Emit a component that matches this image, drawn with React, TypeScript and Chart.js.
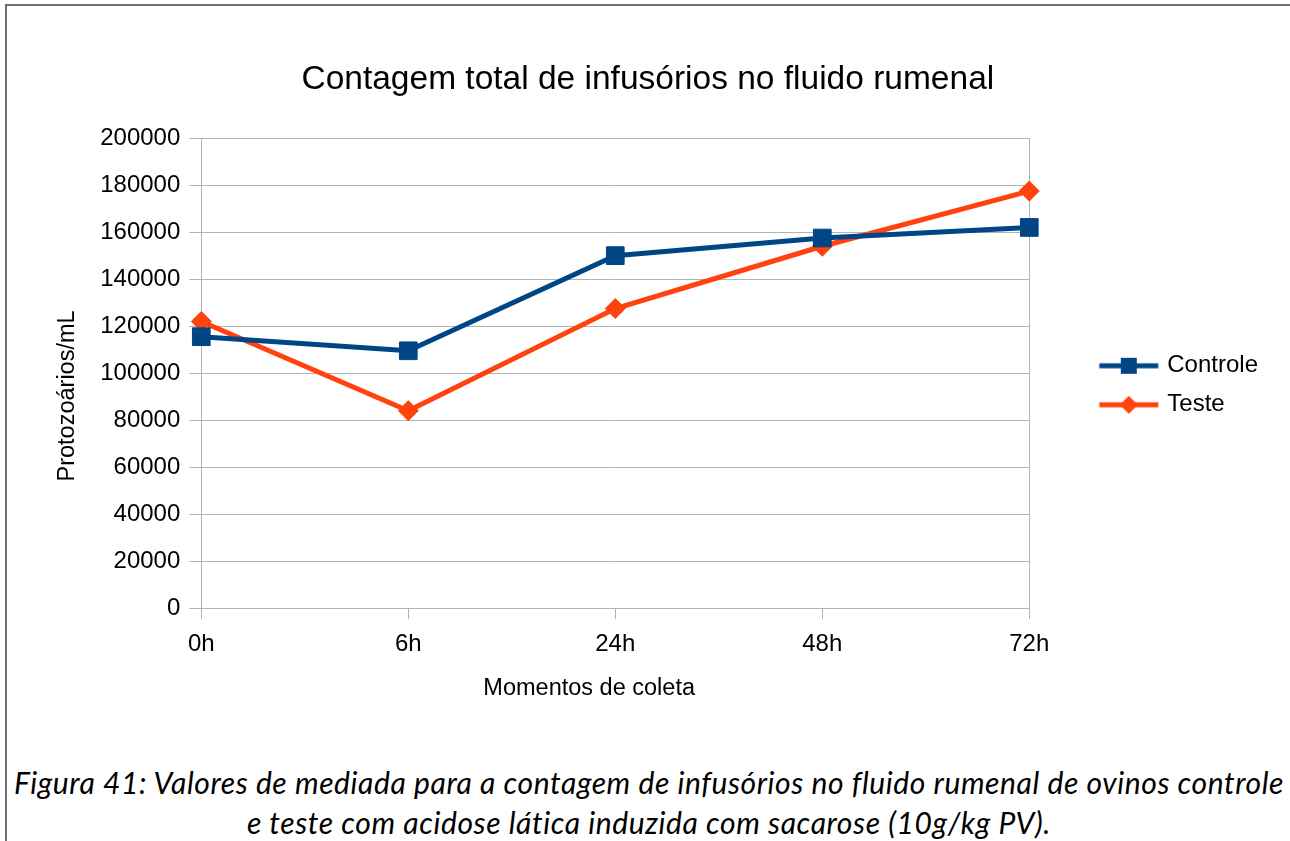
import React, { useEffect, useRef } from "react";
import { Chart, registerables } from "chart.js";

Chart.register(...registerables);

const categories = ["0h", "6h", "24h", "48h", "72h"];
const controle = [115500, 109500, 150000, 157500, 162000];
const teste = [122000, 84000, 127500, 154000, 177500];
const yMin = 0;
const yMax = 200000;
const yStep = 20000;

const chartTitle = "Contagem total de infusórios no fluido rumenal";
const xTitle = "Momentos de coleta";
const yTitle = "Protozoários/mL";
const seriesNames = ["Controle", "Teste"];
const captionLines = [
  "Figura 41: Valores de mediada para a contagem de infusórios no fluido rumenal de ovinos controle",
  "e teste com acidose lática induzida com sacarose (10g/kg PV).",
];

const BLUE = "#004586";
const ORANGE = "#ff420e";
const GRID = "#b3b3b3";
const FONT = "'Liberation Sans', Arial, sans-serif";

function makeIcon(color: string, shape: "square" | "diamond") {
  const c = document.createElement("canvas");
  c.width = 120;
  c.height = 22;
  const ctx = c.getContext("2d")!;
  const y = 11;
  const start = 59.5;
  const end = 118.5;
  ctx.strokeStyle = color;
  ctx.lineWidth = 5;
  ctx.beginPath();
  ctx.moveTo(start, y);
  ctx.lineTo(end, y);
  ctx.stroke();
  const cx = (start + end) / 2;
  ctx.fillStyle = color;
  ctx.beginPath();
  if (shape === "square") {
    ctx.rect(cx - 8, y - 8, 16, 16);
  } else {
    ctx.moveTo(cx, y - 9);
    ctx.lineTo(cx + 9, y);
    ctx.lineTo(cx, y + 9);
    ctx.lineTo(cx - 9, y);
    ctx.closePath();
  }
  ctx.fill();
  return c;
}

export default function App() {
  const ref = useRef<HTMLCanvasElement | null>(null);

  useEffect(() => {
    if (!ref.current) return;
    const BOXW = 111;
    const icons = [makeIcon(BLUE, "square"), makeIcon(ORANGE, "diamond")];
    const chart = new Chart(ref.current, {
      type: "line",
      data: {
        labels: categories,
        datasets: [
          {
            label: seriesNames[0],
            data: controle,
            borderColor: BLUE,
            backgroundColor: BLUE,
            borderWidth: 5,
            pointStyle: "rect",
            pointRadius: 12.5,
            pointHoverRadius: 12.5,
            pointBorderWidth: 1,
            tension: 0,
          },
          {
            label: seriesNames[1],
            data: teste,
            borderColor: ORANGE,
            backgroundColor: ORANGE,
            borderWidth: 5,
            pointStyle: "rectRot",
            pointRadius: 10,
            pointHoverRadius: 10,
            pointBorderWidth: 1,
            tension: 0,
          },
        ],
      },
      options: {
        animation: false,
        responsive: false,
        maintainAspectRatio: false,
        color: "#000",
        font: { family: FONT },
        layout: { padding: { left: 45, right: 22, top: 0, bottom: 18 } },
        plugins: {
          title: {
            display: true,
            text: chartTitle + "  \u2009",
            color: "#000",
            font: { family: FONT, size: 33.5, weight: "normal" },
            padding: { top: 54, bottom: 38 },
          },
          legend: {
            display: true,
            position: "right",
            fullSize: false,
            title: {
              display: true,
              text: " ",
              color: "transparent",
              font: { family: FONT, size: 12 },
              padding: { top: 5, bottom: 5 },
            },
            labels: {
              usePointStyle: true,
              pointStyleWidth: BOXW,
              padding: 15,
              color: "#000",
              font: { family: FONT, size: 24 },
              generateLabels: (ch: any) =>
                ch.data.datasets.map((ds: any, i: number) => ({
                  text: ds.label,
                  pointStyle: icons[i],
                  fillStyle: "transparent",
                  strokeStyle: "transparent",
                  lineWidth: 0,
                  hidden: false,
                  datasetIndex: i,
                  fontColor: "#000",
                })),
            },
          },
          tooltip: { enabled: false },
        },
        scales: {
          x: {
            type: "category",
            offset: false,
            grid: {
              display: true,
              drawOnChartArea: true,
              color: (ctx: any) =>
                ctx.index === 0 || ctx.index === categories.length - 1 ? GRID : "transparent",
              tickColor: GRID,
              tickLength: 11,
              lineWidth: 1,
            },
            border: { display: true, color: GRID },
            ticks: {
              color: "#000",
              font: { family: FONT, size: 24 },
              padding: 11,
              maxRotation: 0,
            },
            title: {
              display: true,
              text: xTitle + "        ",
              color: "#000",
              font: { family: FONT, size: 23.5 },
              padding: { top: 5, bottom: 0 },
            },
          },
          y: {
            type: "linear",
            min: yMin,
            max: yMax,
            grid: {
              display: true,
              color: GRID,
              tickColor: GRID,
              tickLength: 12,
              lineWidth: 1,
            },
            border: { display: true, color: GRID },
            ticks: {
              stepSize: yStep,
              color: "#000",
              font: { family: FONT, size: 24 },
              padding: 9,
              callback: (v: any) => String(v),
            },
            title: {
              display: true,
              text: yTitle + "       ",
              color: "#000",
              font: { family: FONT, size: 23.5 },
              padding: { top: 0, bottom: 10 },
            },
          },
        },
      },
    });
    return () => chart.destroy();
  }, []);

  return (
    <div
      style={{
        position: "fixed",
        left: 0,
        top: 0,
        width: 1290,
        height: 841,
        background: "#fff",
        overflow: "hidden",
      }}
    >
      <div
        style={{
          position: "absolute",
          left: 5,
          top: 4,
          width: 1400,
          height: 900,
          borderLeft: "2px solid #707070",
          borderTop: "2px solid #707070",
          boxSizing: "border-box",
        }}
      />
      <canvas
        ref={ref}
        width={1282}
        height={715}
        style={{ position: "absolute", left: 8, top: 6, width: 1282, height: 715 }}
      />
      <div
        style={{
          position: "absolute",
          left: 8,
          width: 1282,
          top: 762,
          textAlign: "center",
          fontFamily: "Lato, 'Open Sans', sans-serif",
          fontStyle: "italic",
          fontSize: 30,
          letterSpacing: "0.6px",
          lineHeight: "40px",
          color: "#000",
          whiteSpace: "nowrap",
        }}
      >
        {captionLines.map((l, i) => (
          <div key={i}>{l}</div>
        ))}
      </div>
    </div>
  );
}
